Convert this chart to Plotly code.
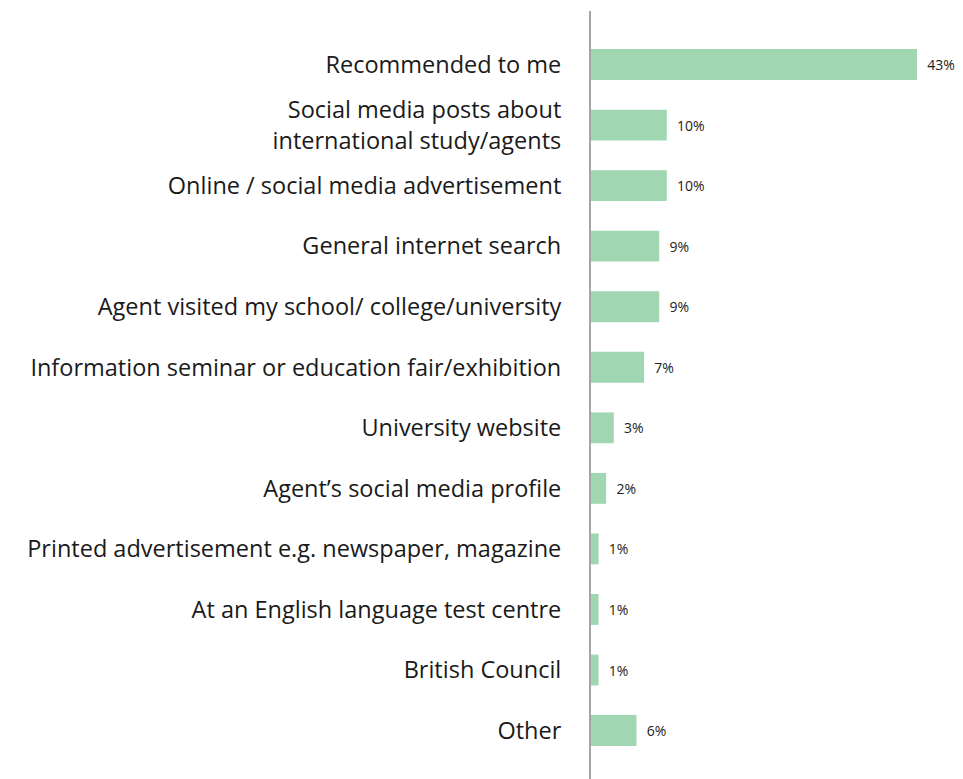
import plotly.graph_objects as go

# Survey responses: how respondents first heard about their agent
categories = [
    "Recommended to me",
    "Social media posts about<br>international study/agents",
    "Online / social media advertisement",
    "General internet search",
    "Agent visited my school/ college/university",
    "Information seminar or education fair/exhibition",
    "University website",
    "Agent’s social media profile",
    "Printed advertisement e.g. newspaper, magazine",
    "At an English language test centre",
    "British Council",
    "Other",
]
shares = [43, 10, 10, 9, 9, 7, 3, 2, 1, 1, 1, 6]

bar_color = "#a1d6b2"
axis_color = "#a3a6a8"
text_color = "#1a1a1a"

fig = go.Figure(
    go.Bar(
        x=shares,
        y=categories,
        orientation="h",
        width=0.51,
        marker=dict(color=bar_color, line=dict(width=0)),
        text=[f"  {v}%" for v in shares],
        textposition="outside",
        textfont=dict(family="Open Sans, sans-serif", size=14, color="#222222"),
        cliponaxis=False,
        hoverinfo="skip",
    )
)

fig.update_layout(
    width=963,
    height=779,
    margin=dict(l=591, r=0, t=11, b=0),
    paper_bgcolor="white",
    plot_bgcolor="white",
    showlegend=False,
    xaxis=dict(
        range=[0, 49.07],
        visible=False,
        showgrid=False,
        zeroline=False,
    ),
    yaxis=dict(
        type="category",
        range=[11.80, -0.884],
        showline=True,
        linecolor=axis_color,
        linewidth=2,
        showgrid=False,
        zeroline=False,
        ticks="outside",
        ticklen=23,
        tickcolor="rgba(0,0,0,0)",
        tickfont=dict(family="Open Sans, sans-serif", size=23.5, color=text_color),
    ),
)

fig.write_html("out.html")
